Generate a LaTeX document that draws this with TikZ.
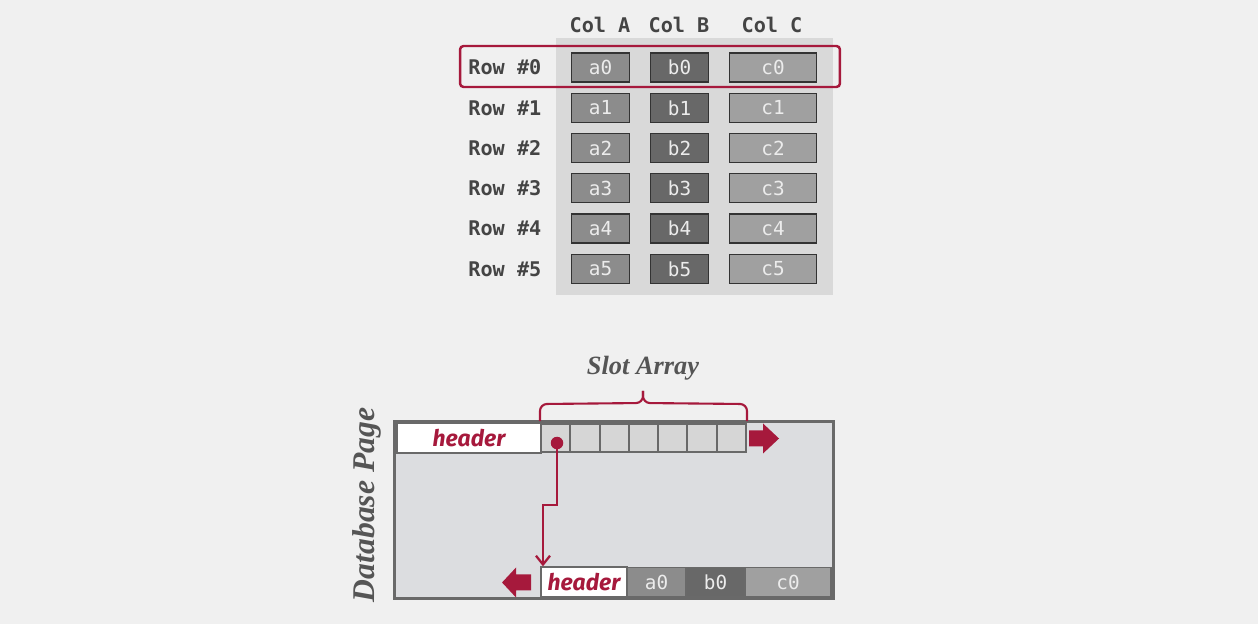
\documentclass[tikz,border=0pt]{standalone}
\usepackage{fontspec}
\setmonofont{DejaVu Sans Mono}
\newfontfamily\hdrfont{Fira Sans}
\newfontfamily\capfont{Liberation Serif}
\usepackage{tikz}
\usetikzlibrary{arrows.meta}
\definecolor{crimson}{RGB}{166,25,60}
\definecolor{bgpage}{RGB}{240,240,240}
\definecolor{panelgray}{RGB}{217,217,217}
\definecolor{acell}{RGB}{140,140,140}
\definecolor{bcell}{RGB}{104,104,104}
\definecolor{ccell}{RGB}{160,160,160}
\definecolor{celltext}{RGB}{236,236,236}
\definecolor{labeltext}{RGB}{68,68,68}
\definecolor{captext}{RGB}{85,85,85}
\definecolor{pagefill}{RGB}{220,221,224}
\definecolor{pageline}{RGB}{105,105,105}
\definecolor{slotfill}{RGB}{214,214,214}
\tikzset{
  tbl_txt/.style = {inner sep=0pt, font=\ttfamily\fontsize{11}{13}\selectfont},
  col_hdr/.style = {tbl_txt, text=labeltext, font=\ttfamily\bfseries\fontsize{11.5}{13}\selectfont},
  row_lbl/.style = {col_hdr, anchor=west},
  cell/.style = {tbl_txt, rectangle, text=celltext, draw=black!80, line width=1.1pt,
    minimum width=1.16cm, minimum height=0.58cm},% a and b columns
  cell_a/.style = {cell, fill=acell},
  cell_b/.style = {cell, fill=bcell},
  cell_c/.style = {cell, fill=ccell, minimum width=1.74cm},
  row_sel/.style = {rectangle, draw=crimson, line width=1.4pt, rounded corners=2pt,
    minimum width=7.6cm, minimum height=0.82cm},
  page/.style = {rectangle, fill=pagefill, minimum width=8.76cm, minimum height=3.52cm},
  slot/.style = {rectangle, fill=slotfill, draw=pageline, line width=1.1pt,
    minimum width=0.586cm, minimum height=0.56cm},
  hdr/.style = {rectangle, fill=white, draw=pageline, line width=1.1pt, text=crimson,
    font=\hdrfont\bfseries\itshape\fontsize{13}{15}\selectfont, minimum height=0.56cm},
  tup/.style = {tbl_txt, rectangle, text=celltext, draw=pageline, line width=1pt,
    minimum height=0.58cm},
  caption/.style = {text=captext, font=\capfont\bfseries\itshape},
  dot/.style = {circle, fill=crimson, inner sep=0pt, minimum size=0.25cm},
  ptr/.style = {crimson, line width=1.3pt, -{Straight Barb[length=5pt,width=8pt]}},
  brace/.style = {crimson, line width=1.2pt, rounded corners=4pt},
  fat_arrow/.style = {fill=crimson},
}

\begin{document}
\begin{tikzpicture}[x=0.02cm,y=-0.02cm]
  \fill[bgpage] (0,0) rectangle (1258,624);
  \useasboundingbox (0,0) rectangle (1258,624);

  % row store table
  \fill[panelgray] (556,38) rectangle (833,295);

  \node[col_hdr] (colA) at (600,25) {Col A};
  \node[col_hdr] (colB) at (679,25) {Col B};
  \node[col_hdr] (colC) at (772,25) {Col C};

  \node[row_lbl] (r0) at (468,67.5) {Row \#0};
  \node[row_lbl] (r1) at (468,108) {Row \#1};
  \node[row_lbl] (r2) at (468,148) {Row \#2};
  \node[row_lbl] (r3) at (468,188) {Row \#3};
  \node[row_lbl] (r4) at (468,228.5) {Row \#4};
  \node[row_lbl] (r5) at (468,269) {Row \#5};

  \node[cell_a] (a0) at (600.5,67.5) {a0};
  \node[cell_b] (b0) at (679.5,67.5) {b0};
  \node[cell_c] (c0) at (773,67.5) {c0};
  \node[cell_a] (a1) at (600.5,108) {a1};
  \node[cell_b] (b1) at (679.5,108) {b1};
  \node[cell_c] (c1) at (773,108) {c1};
  \node[cell_a] (a2) at (600.5,148) {a2};
  \node[cell_b] (b2) at (679.5,148) {b2};
  \node[cell_c] (c2) at (773,148) {c2};
  \node[cell_a] (a3) at (600.5,188) {a3};
  \node[cell_b] (b3) at (679.5,188) {b3};
  \node[cell_c] (c3) at (773,188) {c3};
  \node[cell_a] (a4) at (600.5,228.5) {a4};
  \node[cell_b] (b4) at (679.5,228.5) {b4};
  \node[cell_c] (c4) at (773,228.5) {c4};
  \node[cell_a] (a5) at (600.5,269) {a5};
  \node[cell_b] (b5) at (679.5,269) {b5};
  \node[cell_c] (c5) at (773,269) {c5};

  \node[row_sel] (sel) at (650,66.5) {};

  % database page
  \node[page] (pg) at (614,510) {};
  \node[hdr, minimum width=2.88cm] (pghdr) at (469,438) {header};
  \node[slot] (s1) at (555.6,438) {};
  \node[slot] (s2) at (584.9,438) {};
  \node[slot] (s3) at (614.2,438) {};
  \node[slot] (s4) at (643.5,438) {};
  \node[slot] (s5) at (672.8,438) {};
  \node[slot] (s6) at (702.1,438) {};
  \node[slot] (s7) at (731.4,438) {};

  \node[hdr, minimum width=1.72cm] (thdr) at (584,582) {header};
  \node[tup, fill=acell, minimum width=1.18cm] (ta0) at (656.5,582) {a0};
  \node[tup, fill=bcell, minimum width=1.18cm] (tb0) at (715.5,582) {b0};
  \node[tup, fill=ccell, minimum width=1.72cm] (tc0) at (788,582) {c0};

  \draw[pageline, line width=1.7pt] (pg.north west) rectangle (pg.south east);

  \node[caption, font=\capfont\bfseries\itshape\fontsize{15}{17}\selectfont] (slotlbl) at (643,368) {Slot Array};
  \node[caption, rotate=90, font=\capfont\bfseries\itshape\fontsize{18}{20}\selectfont] (pglbl) at (367,505) {Database Page};

  %   slot array brace
  \draw[brace] (s1.north west) ++(0,-2) -- ++(0,-17) -- (643,403) -- (643,391);
  \draw[brace] (s7.north east) ++(0,-2) -- ++(0,-17) -- (643,403) -- (643,391);

  %   slot pointer
  \node[dot] (ptrdot) at (557,443) {};
  \coordinate (bend) at (543,505);
  \draw[ptr] (ptrdot.center) -- (ptrdot |- bend) -- (bend) -- (bend |- thdr.north);

  %   growth arrows
  \fill[fat_arrow] (s7.east) ++(2,-7.5) -- ++(14,0) -- ++(0,-7) -- ++(16,15)
    -- ++(-16,15) -- ++(0,-7) -- ++(-14,0) -- cycle;
  \fill[fat_arrow] (thdr.west) ++(-9,-7.5) -- ++(-15,0) -- ++(0,-7) -- ++(-14,15)
    -- ++(14,15) -- ++(0,-7) -- ++(15,0) -- cycle;
\end{tikzpicture}
\end{document}
